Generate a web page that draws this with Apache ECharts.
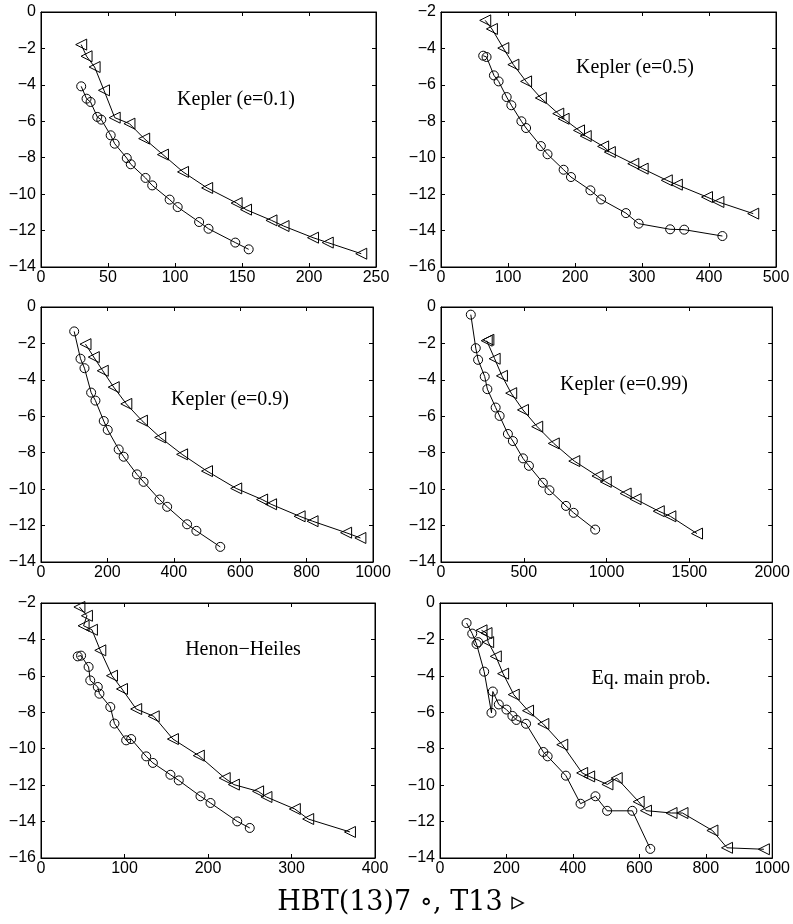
<!DOCTYPE html>
<html>
<head>
<meta charset="utf-8">
<script src="https://cdn.jsdelivr.net/npm/echarts@6/dist/echarts.min.js"></script>
<style>
  html, body { margin: 0; padding: 0; background: #fff; }
  #main { width: 793px; height: 924px; }
</style>
</head>
<body>
<div id="main"></div>
<script>
// panel 1 - Kepler (e=0.1)
var circ1X = [30, 34, 37, 42, 45, 52, 55, 64, 67, 78, 83, 96, 102, 118, 125, 145, 155];
var circ1Y = [-4.08, -4.76, -4.94, -5.76, -5.91, -6.77, -7.23, -8.02, -8.36, -9.11, -9.52, -10.30, -10.71, -11.53, -11.90, -12.66, -13.03];
var tri1X = [30, 34, 40, 47, 55, 66, 77, 91, 106, 124, 146, 153, 172, 181, 203, 214, 239];
var tri1Y = [-1.79, -2.43, -3.02, -4.30, -5.80, -6.13, -6.95, -7.83, -8.78, -9.66, -10.49, -10.85, -11.44, -11.75, -12.39, -12.66, -13.27];

// panel 2 - Kepler (e=0.5)
var circ2X = [63, 68, 79, 86, 98, 105, 120, 127, 149, 159, 183, 194, 223, 239, 276, 295, 342, 363, 420];
var circ2Y = [-4.40, -4.47, -5.48, -5.81, -6.67, -7.12, -8.00, -8.37, -9.36, -9.81, -10.66, -11.06, -11.79, -12.29, -13.04, -13.62, -13.93, -13.95, -14.30];
var tri2X = [66, 76, 93, 108, 127, 149, 175, 183, 206, 216, 242, 252, 287, 301, 337, 352, 397, 414, 466];
var tri2Y = [-2.46, -2.93, -3.98, -4.89, -5.81, -6.72, -7.58, -7.86, -8.50, -8.81, -9.38, -9.69, -10.33, -10.60, -11.24, -11.48, -12.16, -12.43, -13.07];

// panel 3 - Kepler (e=0.9)
var circ3X = [100, 119, 131, 151, 164, 189, 201, 234, 249, 289, 309, 357, 380, 440, 468, 540];
var circ3Y = [-1.34, -2.84, -3.36, -4.70, -5.14, -6.26, -6.75, -7.82, -8.22, -9.19, -9.60, -10.57, -10.97, -11.93, -12.29, -13.17];
var tri3X = [134, 159, 186, 219, 257, 304, 359, 425, 500, 588, 666, 693, 779, 818, 919, 962];
var tri3Y = [-2.04, -2.75, -3.50, -4.40, -5.32, -6.24, -7.16, -8.09, -9.01, -9.96, -10.57, -10.83, -11.49, -11.76, -12.39, -12.68];

// panel 4 - Kepler (e=0.99)
var circ4X = [180, 210, 224, 264, 280, 330, 354, 404, 434, 495, 531, 615, 655, 755, 801, 931];
var circ4Y = [-0.42, -2.26, -2.90, -3.82, -4.51, -5.52, -5.98, -6.97, -7.36, -8.31, -8.72, -9.65, -10.06, -10.92, -11.30, -12.22];
var tri4X = [276, 286, 324, 368, 424, 495, 581, 681, 805, 945, 995, 1115, 1175, 1315, 1385, 1546];
var tri4Y = [-1.85, -1.80, -2.84, -3.78, -4.73, -5.65, -6.57, -7.49, -8.46, -9.28, -9.60, -10.24, -10.55, -11.21, -11.49, -12.44];

// panel 5 - Henon-Heiles
var circ5X = [44, 48, 57, 59, 68, 70, 83, 88, 102, 108, 126, 134, 155, 165, 191, 203, 235, 250];
var circ5Y = [-4.93, -4.89, -5.51, -6.25, -6.61, -6.98, -7.71, -8.62, -9.54, -9.47, -10.42, -10.78, -11.43, -11.74, -12.61, -12.98, -13.99, -14.35];
var tri5X = [46, 55, 51, 61, 71, 85, 97, 114, 135, 158, 189, 220, 231, 260, 270, 304, 320, 370];
var tri5Y = [-2.22, -2.70, -3.25, -3.47, -4.60, -5.99, -6.72, -7.82, -8.22, -9.47, -10.38, -11.61, -11.97, -12.34, -12.65, -13.31, -13.86, -14.57];

// panel 6 - Eq. main prob.
var circ6X = [80, 97, 110, 115, 133, 155, 159, 177, 200, 218, 230, 259, 311, 324, 379, 423, 468, 503, 579, 633];
var circ6Y = [-1.10, -1.68, -2.25, -2.15, -3.77, -6.03, -4.86, -5.57, -5.85, -6.20, -6.42, -6.63, -8.18, -8.42, -9.48, -11.02, -10.61, -11.41, -11.41, -13.50];
var tri6X = [125, 140, 145, 168, 190, 222, 265, 311, 368, 428, 449, 504, 532, 598, 620, 697, 730, 820, 864, 975];
var tri6Y = [-1.50, -1.65, -2.15, -2.93, -3.88, -5.03, -5.91, -6.64, -7.78, -9.33, -9.52, -9.96, -9.61, -10.91, -11.40, -11.53, -11.53, -12.49, -13.44, -13.52];

// axis ranges per panel
var xMax = [250, 500, 1000, 2000, 400, 1000];
var xStep = [50, 100, 200, 500, 100, 200];
var yMin = [-14, -16, -14, -14, -16, -14];
var yMax = [0, -2, 0, 0, -2, 0];
var labels = ['Kepler (e=0.1)', 'Kepler (e=0.5)', 'Kepler (e=0.9)', 'Kepler (e=0.99)', 'Henon\u2212Heiles', 'Eq. main prob.'];

var circles = [[circ1X, circ1Y], [circ2X, circ2Y], [circ3X, circ3Y], [circ4X, circ4Y], [circ5X, circ5Y], [circ6X, circ6Y]];
var triangles = [[tri1X, tri1Y], [tri2X, tri2Y], [tri3X, tri3Y], [tri4X, tri4Y], [tri5X, tri5Y], [tri6X, tri6Y]];

// grid boxes in px
var boxes = [
  [41, 12, 335, 255], [441, 12, 335, 255],
  [41, 307, 332, 255], [441, 307, 333, 255],
  [41, 603, 334, 255], [440, 603, 333, 255]
];
var textPos = [[236, 100], [635, 68], [230, 400], [624, 385], [243, 650], [651, 679]];

function zip(xs, ys) {
  return xs.map(function (x, i) { return [x, ys[i]]; });
}
function minus(v) {
  return String(v).replace('-', '\u2212');
}

var chart = echarts.init(document.getElementById('main'));

var grids = [], xAxes = [], yAxes = [], series = [], graphics = [];
var tri = 'path://M0,5 L10,0 L10,10 Z';

for (var i = 0; i < 6; i++) {
  var b = boxes[i];
  grids.push({ left: b[0], top: b[1], width: b[2], height: b[3], show: true, borderColor: '#000', borderWidth: 1, containLabel: false });

  var axisBase = {
    axisLine: { show: true, onZero: false, lineStyle: { color: '#000', width: 1 } },
    axisTick: { show: true, inside: true, length: 4, lineStyle: { color: '#000' } },
    splitLine: { show: false }
  };
  // bottom + top
  xAxes.push(Object.assign({}, axisBase, {
    type: 'value', gridIndex: i, position: 'bottom', min: 0, max: xMax[i], interval: xStep[i],
    axisLabel: { color: '#000', fontFamily: 'Liberation Sans', fontSize: 16, margin: 3, formatter: minus }
  }));
  xAxes.push(Object.assign({}, axisBase, {
    type: 'value', gridIndex: i, position: 'top', min: 0, max: xMax[i], interval: xStep[i],
    axisLabel: { show: false }
  }));
  // left + right
  yAxes.push(Object.assign({}, axisBase, {
    type: 'value', gridIndex: i, position: 'left', min: yMin[i], max: yMax[i], interval: 2,
    axisLabel: { color: '#000', fontFamily: 'Liberation Sans', fontSize: 16, margin: 5, formatter: minus }
  }));
  yAxes.push(Object.assign({}, axisBase, {
    type: 'value', gridIndex: i, position: 'right', min: yMin[i], max: yMax[i], interval: 2,
    axisLabel: { show: false }
  }));

  series.push({
    type: 'line', xAxisIndex: 2 * i, yAxisIndex: 2 * i,
    data: zip(circles[i][0], circles[i][1]),
    symbol: 'circle', symbolSize: 9,
    lineStyle: { color: '#000', width: 1 },
    itemStyle: { color: 'rgba(0,0,0,0)', borderColor: '#000', borderWidth: 1 },
    animation: false
  });
  series.push({
    type: 'line', xAxisIndex: 2 * i, yAxisIndex: 2 * i,
    data: zip(triangles[i][0], triangles[i][1]),
    symbol: tri, symbolSize: [11, 11],
    lineStyle: { color: '#000', width: 1 },
    itemStyle: { color: 'rgba(0,0,0,0)', borderColor: '#000', borderWidth: 1 },
    animation: false
  });

  graphics.push({
    type: 'text', x: textPos[i][0], y: textPos[i][1],
    style: { text: labels[i], fill: '#000', font: '20px "Liberation Serif"', textAlign: 'center', textVerticalAlign: 'middle' }
  });
}

graphics.push({
  type: 'text', x: 401, y: 903,
  style: { text: 'HBT(13)7 \u2218, T13 \u25B9', fill: '#000', font: '27px "DejaVu Serif"', textAlign: 'center', textVerticalAlign: 'middle' }
});

var option = {
  backgroundColor: '#fff',
  animation: false,
  grid: grids,
  xAxis: xAxes,
  yAxis: yAxes,
  series: series,
  graphic: graphics
};

chart.setOption(option);
</script>
</body>
</html>
